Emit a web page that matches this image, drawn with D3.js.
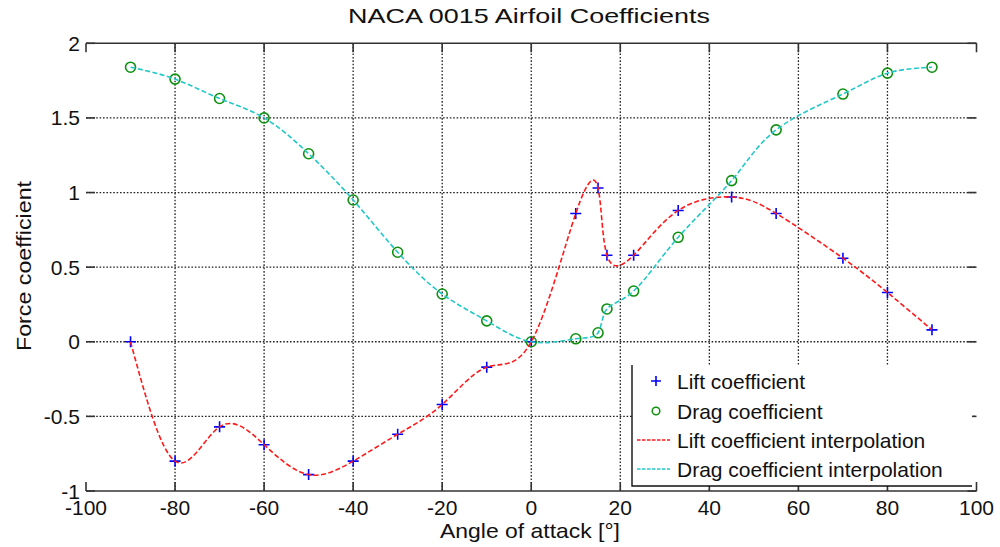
<!DOCTYPE html>
<html lang="en">
<head>
    <meta charset="UTF-8">
    <title>NACA 0015 Airfoil Coefficients</title>
    <script src="https://d3js.org/d3.v7.min.js"></script>
    <style>
        body { margin: 0; background: #fff; }
        text { font-family: "Liberation Sans", Arial, sans-serif; fill: #111; }
    </style>
</head>
<body>
<svg width="1000" height="547"></svg>
<script>
    // measured points
    const alphaLift = [-90, -80, -70, -60, -50, -40, -30, -20, -10, 0, 10, 15, 17, 23, 33, 45, 55, 70, 80, 90];
    const liftCoef  = [0, -0.80, -0.57, -0.69, -0.89, -0.80, -0.62, -0.42, -0.17, 0, 0.86, 1.03, 0.58, 0.58, 0.88, 0.97, 0.86, 0.56, 0.33, 0.08];
    const alphaDrag = [-90, -80, -70, -60, -50, -40, -30, -20, -10, 0, 10, 15, 17, 23, 33, 45, 55, 70, 80, 90];
    const dragCoef  = [1.84, 1.76, 1.63, 1.50, 1.26, 0.95, 0.60, 0.32, 0.14, 0, 0.02, 0.06, 0.22, 0.34, 0.70, 1.08, 1.42, 1.66, 1.80, 1.84];

    const xTicks = [-100, -80, -60, -40, -20, 0, 20, 40, 60, 80, 100];
    const yTicks = [-1, -0.5, 0, 0.5, 1, 1.5, 2];
    const legendLabels = ["Lift coefficient", "Drag coefficient", "Lift coefficient interpolation", "Drag coefficient interpolation"];

    const svg = d3.select("svg");
    const x = d3.scaleLinear().domain([-100, 100]).range([86, 976.5]);
    const y = d3.scaleLinear().domain([-1, 2]).range([491, 43.3]);

    const lift = alphaLift.map((a, i) => [a, liftCoef[i]]);
    const drag = alphaDrag.map((a, i) => [a, dragCoef[i]]);

    // grid
    let grid = svg.append("g");
    grid.selectAll(".vg").data(xTicks.slice(1, -1)).enter().append("line")
        .attr("x1", d => x(d)).attr("x2", d => x(d))
        .attr("y1", y(2)).attr("y2", y(-1))
        .attr("stroke", "#222").attr("stroke-width", 1.3)
        .attr("stroke-dasharray", "1.6,1.8");
    grid.selectAll(".hg").data(yTicks.slice(1, -1)).enter().append("line")
        .attr("x1", x(-100)).attr("x2", x(100))
        .attr("y1", d => y(d)).attr("y2", d => y(d))
        .attr("stroke", "#222").attr("stroke-width", 1.3)
        .attr("stroke-dasharray", "1.6,1.8");

    // top and bottom box lines, inward ticks
    let ax = svg.append("g").attr("stroke", "#333").attr("stroke-width", 1.6);
    ax.append("line").attr("x1", x(-100)).attr("x2", x(100)).attr("y1", y(2)).attr("y2", y(2));
    ax.append("line").attr("x1", x(-100)).attr("x2", x(100)).attr("y1", y(-1)).attr("y2", y(-1));
    ax.selectAll(".tb").data(xTicks).enter().append("line")
        .attr("x1", d => x(d)).attr("x2", d => x(d)).attr("y1", y(-1)).attr("y2", y(-1) - 9);
    ax.selectAll(".tt").data(xTicks).enter().append("line")
        .attr("x1", d => x(d)).attr("x2", d => x(d)).attr("y1", y(2)).attr("y2", y(2) + 9);
    ax.selectAll(".tl").data(yTicks).enter().append("line")
        .attr("x1", x(-100)).attr("x2", x(-100) + 9).attr("y1", d => y(d)).attr("y2", d => y(d));
    ax.selectAll(".tr").data(yTicks).enter().append("line")
        .attr("x1", x(100)).attr("x2", x(100) - 9).attr("y1", d => y(d)).attr("y2", d => y(d));

    // tick labels
    svg.append("g").selectAll("text").data(xTicks).enter().append("text")
        .attr("x", d => x(d)).attr("y", 515)
        .attr("text-anchor", "middle").style("font-size", "21px")
        .text(d => d);
    svg.append("g").selectAll("text").data(yTicks).enter().append("text")
        .attr("x", 80).attr("y", d => y(d) + 7.5)
        .attr("text-anchor", "end").style("font-size", "21px")
        .text(d => d);

    // titles
    svg.append("text").attr("x", 529).attr("y", 23)
        .attr("text-anchor", "middle").style("font-size", "21px")
        .attr("textLength", 362).attr("lengthAdjust", "spacingAndGlyphs")
        .text("NACA 0015 Airfoil Coefficients");
    svg.append("text").attr("x", 530).attr("y", 538)
        .attr("text-anchor", "middle").style("font-size", "21px")
        .attr("textLength", 180).attr("lengthAdjust", "spacingAndGlyphs")
        .text("Angle of attack [°]");
    svg.append("text").attr("transform", "translate(31,266) rotate(-90)")
        .attr("text-anchor", "middle").style("font-size", "21px")
        .attr("textLength", 170).attr("lengthAdjust", "spacingAndGlyphs")
        .text("Force coefficient");

    // markers
    const plus = d3.symbol().type(d3.symbolCross);
    function drawPlus(g, px, py, s) {
        g.append("path")
            .attr("d", `M${px - s},${py}H${px + s}M${px},${py - s}V${py + s}`)
            .attr("stroke", "#0000ff").attr("stroke-width", 1.6).attr("fill", "none");
    }
    let marks = svg.append("g");
    lift.forEach(d => drawPlus(marks, x(d[0]), y(d[1]), 5.5));
    marks.selectAll("circle").data(drag).enter().append("circle")
        .attr("cx", d => x(d[0])).attr("cy", d => y(d[1])).attr("r", 5)
        .attr("fill", "none").attr("stroke", "#109010").attr("stroke-width", 1.6);

    // interpolation curves
    const line = d3.line().x(d => x(d[0])).y(d => y(d[1])).curve(d3.curveNatural);
    svg.append("path").datum(lift).attr("d", line)
        .attr("fill", "none").attr("stroke", "#ff1a1a").attr("stroke-width", 1.6)
        .attr("stroke-dasharray", "5,2.5");
    svg.append("path").datum(drag).attr("d", line)
        .attr("fill", "none").attr("stroke", "#22c8c8").attr("stroke-width", 1.6)
        .attr("stroke-dasharray", "5,2.5");

    // legend
    let lg = svg.append("g");
    lg.append("rect").attr("x", 632).attr("y", 365).attr("width", 340).attr("height", 121).attr("fill", "#fff");
    lg.append("path").attr("d", "M632,365V486H972")
        .attr("fill", "none").attr("stroke", "#111").attr("stroke-width", 1.4);
    const rowY = [381, 411, 440, 469];
    lg.selectAll("text").data(legendLabels).enter().append("text")
        .attr("x", 677).attr("y", (d, i) => rowY[i] + 8)
        .style("font-size", "21px")
        .text(d => d);
    drawPlus(lg, 656, rowY[0], 5);
    lg.append("circle").attr("cx", 656).attr("cy", rowY[1]).attr("r", 3.8)
        .attr("fill", "none").attr("stroke", "#109010").attr("stroke-width", 1.5);
    lg.append("line").attr("x1", 637).attr("x2", 670).attr("y1", rowY[2]).attr("y2", rowY[2])
        .attr("stroke", "#ff1a1a").attr("stroke-width", 1.4).attr("stroke-dasharray", "3.5,1.5");
    lg.append("line").attr("x1", 637).attr("x2", 670).attr("y1", rowY[3]).attr("y2", rowY[3])
        .attr("stroke", "#22c8c8").attr("stroke-width", 1.4).attr("stroke-dasharray", "3.5,1.5");
</script>
</body>
</html>
